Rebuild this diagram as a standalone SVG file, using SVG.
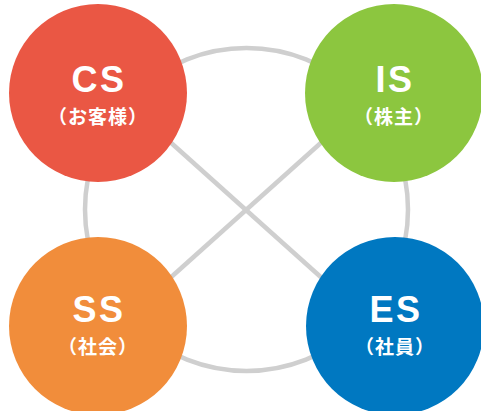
<svg xmlns="http://www.w3.org/2000/svg" width="481" height="411" viewBox="0 0 481 411">
<style>
.conn{fill:none;stroke:#cfcfcf;stroke-width:4.5}
.t1{font-family:"Liberation Sans",Arial,sans-serif;font-weight:bold;font-size:36px;fill:#fff;text-anchor:middle;letter-spacing:2.5px}
.t2{font-family:"Noto Sans CJK JP","Noto Sans",sans-serif;font-weight:bold;font-size:19px;fill:#fff;text-anchor:middle;letter-spacing:1px}
</style>
<rect width="481" height="411" fill="#fff"/>
<g id="connectors">
<circle class="conn" cx="246.5" cy="209.5" r="161.5"/>
<line class="conn" x1="130" y1="106" x2="362" y2="314"/>
<line class="conn" x1="362" y1="106" x2="130" y2="314"/>
</g>
<g id="cs">
<circle cx="98" cy="93" r="89" fill="#ea5744"/>
<text class="t1" x="99" y="92">CS</text>
<text class="t2" x="98" y="124">（お客様）</text>
</g>
<g id="is">
<circle cx="394" cy="93" r="89" fill="#8cc63f"/>
<text class="t1" x="395" y="92">IS</text>
<text class="t2" x="394" y="124">（株主）</text>
</g>
<g id="ss">
<circle cx="98" cy="326" r="89" fill="#f18d3b"/>
<text class="t1" x="99" y="322">SS</text>
<text class="t2" x="98" y="354">（社会）</text>
</g>
<g id="es">
<circle cx="395" cy="326" r="89" fill="#0078c1"/>
<text class="t1" x="396" y="322">ES</text>
<text class="t2" x="395" y="354">（社員）</text>
</g>
</svg>
